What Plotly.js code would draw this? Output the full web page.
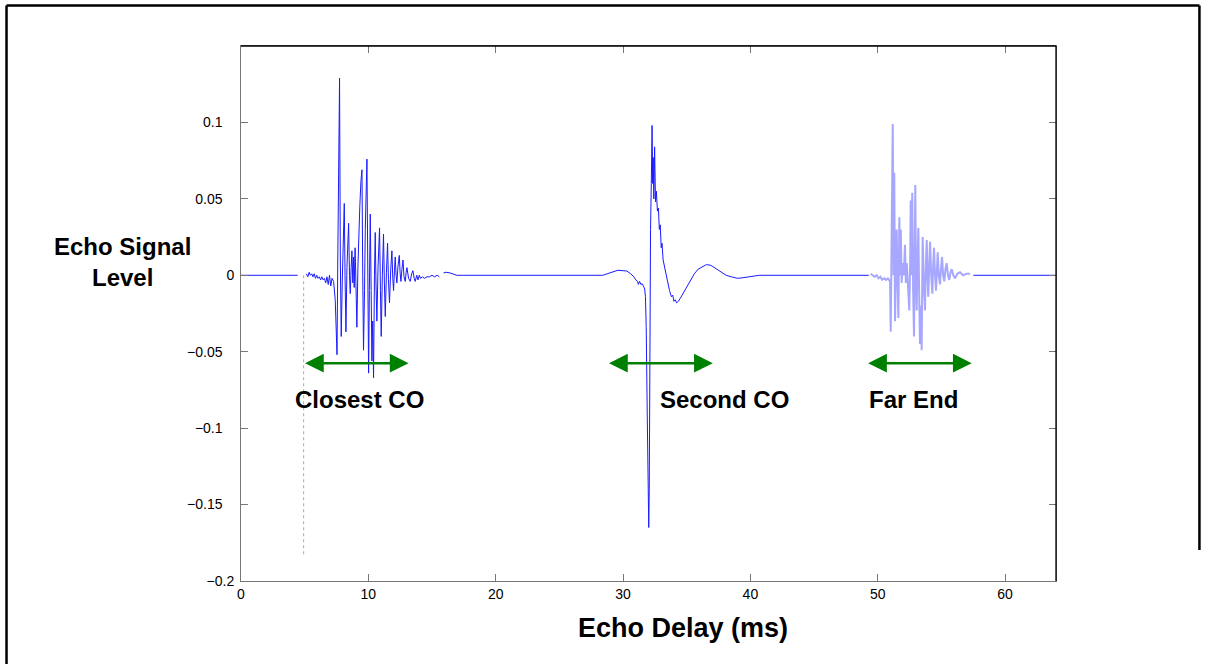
<!DOCTYPE html>
<html>
<head>
<meta charset="utf-8">
<script src="https://cdn.plot.ly/plotly-3.0.1.min.js"></script>
<style>html,body{margin:0;padding:0;background:#fff;}#chart{width:1207px;height:664px;}</style>
</head>
<body>
<div id="chart"></div>
<script>
// ---- Data (echo delay in ms, echo signal level) ----
var leadT = [0, 4.45];
var leadV = [0, 0];

var closestT = [5.13,5.25,5.35,5.45,5.55,5.65,5.75,5.85,5.95,6.05,6.15,6.25,6.35,6.45,6.55,6.65,6.75,6.85,6.95,7.05,7.15,7.27,7.40,7.47,7.54,7.60,7.66,7.74,7.80,7.87,7.95,8.02,8.11,8.17,8.24,8.32,8.38,8.45,8.52,8.58,8.65,8.71,8.78,8.84,8.89,8.96,9.05,9.10,9.18,9.25,9.33,9.42,9.50,9.56,9.62,9.70,9.76,9.89,9.95,10.02,10.08,10.15,10.22,10.28,10.34,10.41,10.48,10.54,10.60,10.67,10.76,10.82,10.88,10.95,11.01,11.10,11.19,11.26,11.33,11.42,11.51,11.58,11.66,11.76,11.85,11.92,11.98,12.05,12.11,12.18,12.24,12.33,12.43,12.50,12.56,12.64,12.72,12.80,12.90,12.97,13.03,13.16,13.29,13.40,13.50,13.60,13.68,13.80,13.90,14.00,14.10,14.25,14.40,14.60,14.80,15.00,15.20,15.40,15.58];
var closestV = [0.001,-0.001,0.002,0.000,0.001,-0.001,0.001,-0.002,0.000,-0.002,-0.001,-0.003,-0.001,-0.003,-0.002,-0.005,-0.001,-0.006,0.000,-0.007,-0.002,-0.004,-0.016,-0.045,-0.052,0.010,0.062,0.129,0.010,-0.040,-0.005,0.020,0.047,0.000,-0.037,0.005,0.020,0.034,0.000,-0.012,0.005,0.016,-0.005,0.012,-0.008,0.018,-0.015,-0.034,0.005,0.027,0.045,0.062,0.069,0.000,-0.049,-0.010,0.030,0.076,0.000,-0.064,-0.010,0.040,-0.010,-0.056,-0.030,-0.067,0.000,0.028,-0.005,-0.030,0.005,0.018,0.031,-0.010,-0.040,0.000,0.027,-0.005,-0.027,0.002,0.021,-0.003,-0.018,0.004,0.016,-0.002,-0.010,0.003,0.012,0.000,-0.005,0.006,0.013,0.001,-0.004,0.004,0.010,-0.001,-0.004,0.002,0.005,-0.002,-0.004,0.001,0.003,-0.002,-0.004,0.000,-0.003,0.000,-0.002,-0.001,-0.002,-0.001,-0.001,0.000,-0.001,0.000,-0.001];

var secondT = [15.90,16.10,16.43,16.95,28.40,28.80,29.20,29.60,30.00,30.30,30.60,30.85,31.00,31.15,31.20,31.30,31.40,31.50,31.60,31.70,31.76,31.82,31.90,31.98,32.02,32.06,32.10,32.16,32.22,32.28,32.33,32.37,32.42,32.48,32.55,32.62,32.70,32.78,32.85,32.92,33.00,33.06,33.15,33.25,33.35,33.50,33.65,33.80,33.90,34.00,34.10,34.20,34.35,34.50,34.70,34.90,35.10,35.30,35.60,35.90,36.20,36.55,36.90,37.20,37.50,37.80,38.10,38.50,39.00,39.50,40.00,40.70,49.30];
var secondV = [0.0015,0.002,0.0015,0,0,0.001,0.0025,0.0033,0.003,0.0028,0.001,-0.001,-0.003,-0.004,-0.006,-0.004,-0.006,-0.0055,-0.007,-0.009,-0.014,-0.034,-0.090,-0.147,-0.165,-0.140,-0.040,0.030,0.060,0.098,0.060,0.077,0.050,0.084,0.048,0.055,0.042,0.044,0.030,0.033,0.018,0.021,0.010,0.006,0.000,-0.006,-0.010,-0.014,-0.013,-0.017,-0.016,-0.018,-0.017,-0.015,-0.012,-0.009,-0.006,-0.003,0.001,0.004,0.0055,0.007,0.0065,0.005,0.003,0.0015,0.000,-0.001,-0.002,-0.0015,-0.0008,0,0];

var farT = [49.45,49.60,49.75,49.92,50.05,50.20,50.35,50.50,50.65,50.80,50.97,51.02,51.10,51.18,51.24,51.30,51.36,51.42,51.49,51.55,51.62,51.70,51.76,51.81,51.88,51.96,52.05,52.14,52.21,52.28,52.38,52.48,52.55,52.59,52.65,52.71,52.78,52.85,52.90,52.95,53.00,53.06,53.12,53.19,53.25,53.32,53.38,53.45,53.50,53.53,53.62,53.71,53.78,53.85,53.91,53.97,54.04,54.11,54.20,54.29,54.35,54.42,54.50,54.58,54.65,54.71,54.80,54.89,54.97,55.05,55.14,55.23,55.32,55.41,55.52,55.62,55.72,55.81,55.94,56.07,56.25,56.46,56.70,56.95,57.25];
var farV = [0.001,0.000,-0.001,0.000,-0.002,-0.001,-0.003,-0.002,-0.003,-0.002,-0.004,-0.037,0.020,0.099,0.000,0.067,-0.030,0.010,0.030,0.000,-0.028,0.038,0.000,0.030,-0.005,0.008,0.000,0.020,-0.005,0.008,-0.012,-0.023,0.010,0.049,0.000,0.054,-0.010,-0.040,0.010,0.059,0.000,-0.023,0.010,0.031,-0.010,-0.045,-0.020,-0.049,0.000,0.025,-0.005,-0.023,0.005,0.023,0.000,-0.014,0.005,0.022,0.000,-0.012,0.005,0.018,0.000,-0.010,0.003,0.015,0.000,-0.006,0.004,0.012,0.000,-0.004,0.004,0.008,0.000,-0.003,0.002,0.004,0.000,-0.002,0.001,0.002,0.000,0.001,0.001];

var tailT = [57.51, 64];
var tailV = [0, 0];

var markerT = [4.92, 4.92];
var markerV = [0, -0.184];

var regionNames = ['Closest CO', 'Second CO', 'Far End'];
var regionStart = [4.91, 28.78, 49.13];
var regionEnd = [13.16, 37.05, 57.38];
var regionLabelT = [9.33, 38.0, 52.82];
var regionArrowLevel = -0.0575;
var regionLabelLevel = -0.081;

var xTickVals = [0, 10, 20, 30, 40, 50, 60];
var xTickText = ['0', '10', '20', '30', '40', '50', '60'];
var yTickVals = [-0.2, -0.15, -0.1, -0.05, 0, 0.05, 0.1];
var yTickText = ['\u22120.2', '\u22120.15', '\u22120.1', '\u22120.05', '0', '0.05', '0.1'];

var xTitle = 'Echo Delay (ms)';
var yTitleLines = ['Echo Signal', 'Level'];

// ---- Build traces ----
var mainT = [].concat(leadT, [null], closestT, [null], secondT, [null], tailT);
var mainV = [].concat(leadV, [null], closestV, [null], secondV, [null], tailV);

var FONT = 'Liberation Sans, Arial, Helvetica, sans-serif';

// reference draws most y labels further from the axis than "0" and "-0.2"
var PAD = '\u00a0\u00a0\u00a0';
var yTickShown = yTickText.map(function (s, i) {
  return (yTickVals[i] === 0 || yTickVals[i] === -0.2) ? s : s + PAD;
});

var traces = [
  {x: markerT, y: markerV, mode: 'lines', line: {color: '#a8a8a8', width: 1, dash: 'dot'}, hoverinfo: 'skip'},
  {x: mainT, y: mainV, mode: 'lines', line: {color: '#1a1aff', width: 1}, connectgaps: false},
  {x: farT, y: farV, mode: 'lines', line: {color: 'rgba(80,80,255,0.5)', width: 2}}
];

var annotations = [];
for (var i = 0; i < regionNames.length; i++) {
  annotations.push({
    x: regionEnd[i], y: regionArrowLevel, ax: regionStart[i], ay: regionArrowLevel,
    xref: 'x', yref: 'y', axref: 'x', ayref: 'y', text: '',
    showarrow: true, arrowside: 'end+start', arrowhead: 2, startarrowhead: 2,
    arrowsize: 1.5, startarrowsize: 1.5, arrowwidth: 2.5, arrowcolor: '#008000',
    standoff: 0, startstandoff: 0
  });
  annotations.push({
    x: regionLabelT[i], y: regionLabelLevel, xref: 'x', yref: 'y', showarrow: false,
    xanchor: 'center', yanchor: 'middle',
    text: '<b>' + regionNames[i] + '</b>',
    font: {family: FONT, size: 24, color: '#000'}
  });
}
annotations.push({
  xref: 'paper', yref: 'paper', x: -0.146, y: 0.596, showarrow: false,
  xanchor: 'center', yanchor: 'middle',
  text: '<b>' + yTitleLines.join('<br>') + '</b>',
  font: {family: FONT, size: 24, color: '#000'}, align: 'center'
});
annotations.push({
  xref: 'paper', yref: 'paper', x: 0.542, y: -0.088, showarrow: false,
  xanchor: 'center', yanchor: 'middle',
  text: '<b>' + xTitle + '</b>',
  font: {family: FONT, size: 27, color: '#000'}
});

var layout = {
  width: 1207, height: 664,
  margin: {l: 241, r: 151, t: 46, b: 83, pad: 0},
  paper_bgcolor: '#fff', plot_bgcolor: '#fff',
  showlegend: false,
  font: {family: FONT, size: 14, color: '#000'},
  xaxis: {
    range: [0, 64], tickvals: xTickVals, ticktext: xTickText,
    ticks: 'inside', ticklen: 7, tickcolor: '#777', tickwidth: 1,
    showline: true, linecolor: '#777', linewidth: 1, mirror: 'ticks',
    showgrid: false, zeroline: false, tickfont: {family: FONT, size: 14, color: '#000'}
  },
  yaxis: {
    range: [-0.2, 0.15], tickvals: yTickVals, ticktext: yTickShown,
    ticks: 'inside', ticklen: 7, tickcolor: '#777', tickwidth: 1,
    showline: true, linecolor: '#777', linewidth: 1, mirror: 'ticks',
    ticklabelstandoff: 3,
    showgrid: false, zeroline: false, tickfont: {family: FONT, size: 14, color: '#000'}
  },
  annotations: annotations,
  shapes: [
    {type: 'line', xref: 'paper', yref: 'paper', x0: 0, x1: 1, y0: 1, y1: 1, line: {color: '#000', width: 1.3}},
    {type: 'line', xref: 'paper', yref: 'paper', x0: 1, x1: 1, y0: 0, y1: 1, line: {color: '#000', width: 1.3}},
    // outer page frame: left and top edges, right edge ending above the x labels
    {type: 'line', xref: 'paper', yref: 'paper', x0: -0.2877, x1: -0.2877, y0: -0.2, y1: 1.0757, line: {color: '#000', width: 2.5}},
    {type: 'line', xref: 'paper', yref: 'paper', x0: -0.2877, x1: 1.176, y0: 1.0757, y1: 1.0757, line: {color: '#000', width: 2.5}},
    {type: 'line', xref: 'paper', yref: 'paper', x0: 1.176, x1: 1.176, y0: 0.058, y1: 1.0757, line: {color: '#000', width: 2.5}}
  ]
};

Plotly.newPlot('chart', traces, layout, {displayModeBar: false, staticPlot: true});
</script>
</body>
</html>
